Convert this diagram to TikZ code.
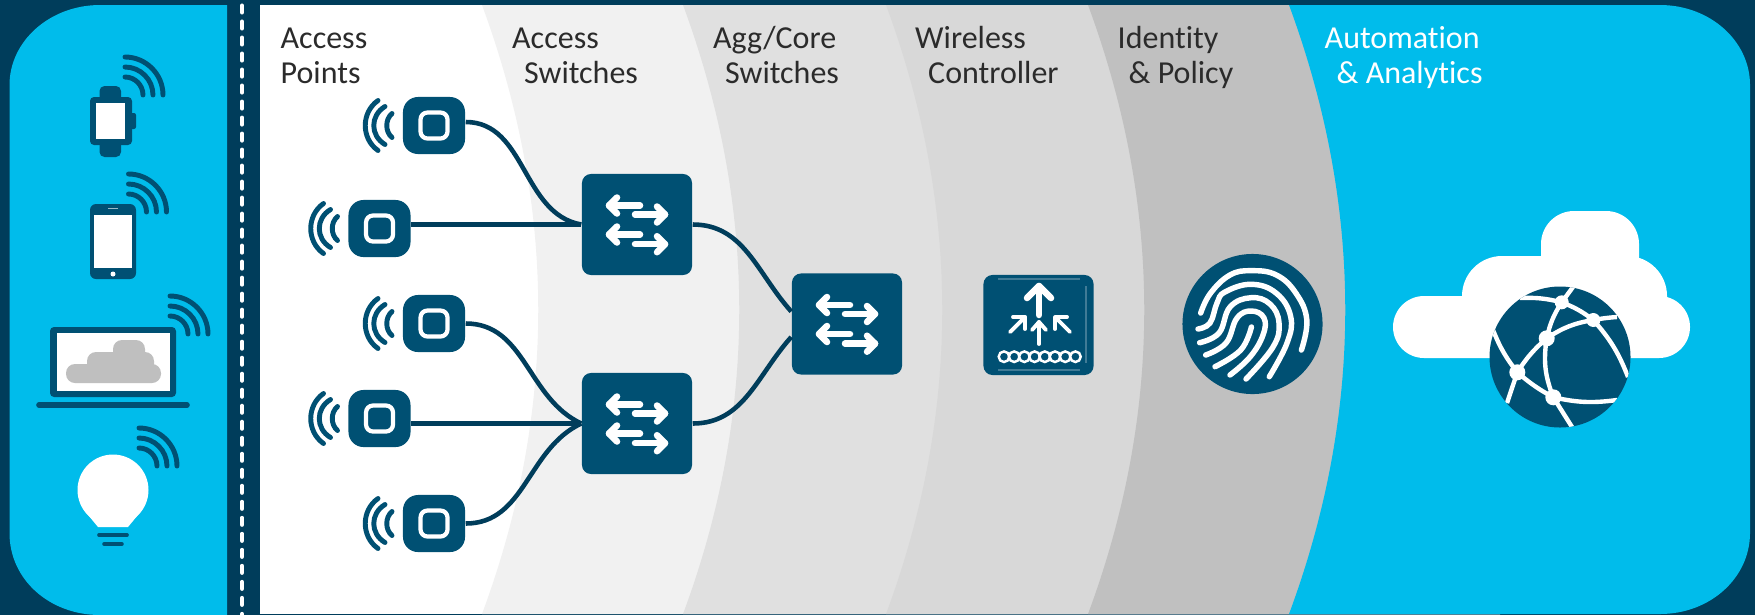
\documentclass[tikz,border=0pt]{standalone}
\usepackage{fontspec}
\setmainfont[Ligatures=NoCommon]{Carlito}
\usepackage{tikz}
\usetikzlibrary{positioning}
\definecolor{bgC}{HTML}{003D5B}
\definecolor{iconC}{HTML}{005073}
\definecolor{skyC}{HTML}{00BCEB}
\definecolor{inkC}{HTML}{2B2B2B}
\begin{document}
\begin{tikzpicture}[
        x=0.01cm,
        y=-0.01cm,
        labelS/.style={
            anchor=base west,
            inner sep=0,
            align=left,
            text=inkC,
            font=\fontsize{9.1}{9.75}\selectfont
        },
        apS/.style={
            fill=iconC,
            inner sep=0,
            minimum width=0.62cm,
            minimum height=0.57cm,
            rounded corners=0.15cm
        },
        switchS/.style={
            fill=iconC,
            inner sep=0,
            minimum width=1.1cm,
            minimum height=1.01cm,
            rounded corners=0.09cm
        },
        linkS/.style={
            draw=bgC,
            line width=1.3pt
        },
        waveS/.style={
            draw=iconC,
            line width=1.4pt,
            line cap=round
        },
        glyphS/.style={
            draw=white,
            line width=1.85pt,
            line cap=round,
            line join=round
        },
        globeS/.style={
            draw=white,
            line width=1.25pt
        },
        fingerS/.style={
            draw=white,
            line width=1.55pt,
            line cap=round
        },
        apP/.pic={
            \draw[white,line width=1.2pt,rounded corners=0.07cm] (-13.5,-13) rectangle (13.5,13);
            \draw[waveS] (-56,-25) .. controls (-73,-13) and (-73,13) .. (-56,25);
            \draw[waveS] (-49,-19) .. controls (-64,-10) and (-64,10) .. (-49,19);
            \draw[waveS] (-42,-12) .. controls (-49,-6) and (-49,6) .. (-42,12);
        },
        wifiP/.pic={
            \foreach \r in {18,28,38} {
                \draw[waveS] (0,-\r) .. controls (0.55*\r,-\r) and (\r,-0.55*\r) .. (\r,0);
            }
        },
        switchP/.pic={
            \foreach \yy in {-19,10} {
                \draw[glyphS] (3,\yy) -- (-28,\yy);
                \draw[glyphS] (-20,\yy-8) -- (-28,\yy) -- (-20,\yy+8);
            }
            \foreach \yy in {-10,19.7} {
                \draw[glyphS] (-2,\yy) -- (28,\yy);
                \draw[glyphS] (20,\yy-8) -- (28,\yy) -- (20,\yy+8);
            }
        },
    ]

	\useasboundingbox (0,0) rectangle (1755,614.5);

	% ground
	\fill[bgC] (0,0) rectangle (1755,615);
	\fill[skyC] (227,5) -- (100,5) .. controls (50,5) and (9.5,41) .. (9.5,85) -- (9.5,533) .. controls (9.5,580) and (50,615) .. (100,615) -- (227,615) -- cycle;
	\draw[white,line width=1.15pt,line cap=round,dash pattern=on 0.07cm off 0.09cm] (242,5.5) -- (242,615);
	\fill[white] (260,5) rectangle (600,614);
	\foreach \xt/\col in {482/F1F1F1,683/E0E0E0,886/D8D8D8,1088/C0C0C0} {
		\definecolor{bandC}{HTML}{\col}
		\fill[bandC] (\xt,5) .. controls (\xt+75,208) and (\xt+75,412) .. (\xt,614) -- (1500,614) -- (1500,5) -- cycle;
	}
	\fill[skyC] (1289,5) .. controls (1364,208) and (1364,412) .. (1289,614) -- (1660,614) .. controls (1710,614) and (1750,578) .. (1750,533) -- (1750,85) .. controls (1750,41) and (1710,5) .. (1660,5) -- cycle;

	% headings
	\node[labelS] (L1) at (280,83) {Access\\Points};
	\node[labelS] (L2) at (511.5,83) {Access\\\hspace*{0.12cm}Switches};
	\node[labelS] (L3) at (712.5,83) {Agg/Core\\\hspace*{0.12cm}Switches};
	\node[labelS] (L4) at (914.5,83) {Wireless\\\hspace*{0.13cm}Controller};
	\node[labelS] (L5) at (1117,83) {Identity\\\hspace*{0.11cm}\& Policy};
	\node[labelS,text=white] (L6) at (1324,83) {Automation\\\hspace*{0.12cm}\& Analytics};

	% devices
	\fill[iconC,rounded corners=0.05cm] (99.5,86) rectangle (121,110);
	\fill[iconC,rounded corners=0.05cm] (99.5,130) rectangle (121,157);
	\fill[iconC,rounded corners=0.02cm] (128,113) rectangle (136,129);
	\fill[iconC,rounded corners=0.04cm] (90,97) rectangle (132,145);
	\fill[white] (96,103) rectangle (125,139);
	\pic at (125,95) {wifiP};

	\fill[iconC,rounded corners=0.06cm] (90,204) rectangle (136,279);
	\fill[white] (94,215) rectangle (132,268);
	\draw[white,opacity=0.6,line width=0.3pt] (108,208.3) -- (118,208.3);
	\fill[white] (113,274) circle (2.5);
	\pic at (128.5,212) {wifiP};

	\fill[iconC,rounded corners=0.04cm] (50,327) rectangle (176,397);
	\fill[white] (57,333) rectangle (170,391);
	\fill[black!25,rounded corners=0.09cm] (66,364) rectangle (161,383);
	\fill[black!25,rounded corners=0.09cm] (87,352) rectangle (154,380);
	\fill[black!25,rounded corners=0.09cm] (113,340) rectangle (145,370);
	\draw[iconC,line width=1.6pt,line cap=round] (39,405) -- (187,405);
	\pic at (170,334) {wifiP};

	\fill[white] (113,490) circle (35.5);
	\fill[white] (84,510) -- (98,527) -- (128,527) -- (142,510) -- cycle;
	\draw[iconC,line width=1.05pt,line cap=round] (99,535) -- (127,535);
	\draw[iconC,line width=1pt,line cap=round] (104,544) -- (122,544);
	\pic at (139,466) {wifiP};

	% access points and switches
	\foreach \n/\x/\y in {1/434/125.5,2/379.5/228.5,3/434/323.5,4/379.5/418.5,5/434/523.5} {
		\node[apS] (AP\n) at (\x,\y) {};
		\pic at (AP\n) {apP};
	}
	\node[switchS] (S1) at (637,224.5) {};
	\node[switchS] (S2) at (637,423.5) {};
	\node[switchS] (S3) at (847,324) {};
	\pic at (S1) {switchP};
	\pic at (S2) {switchP};
	\pic at (S3) {switchP};

	\draw[linkS] ([yshift=0.035cm]AP1.east) to[out=0,in=170] (S1.west);
	\draw[linkS] (AP2.east |- S1.west) -- (S1.west);
	\draw[linkS] (AP3.east) to[out=0,in=155] (S2.west);
	\draw[linkS] (AP4.east |- S2.west) -- (S2.west);
	\draw[linkS] (AP5.east) to[out=0,in=205] (S2.west);
	\draw[linkS] (S1.east) to[out=0,in=132] ([yshift=0.125cm]S3.west);
	\draw[linkS] (S2.east) to[out=0,in=228] ([yshift=-0.13cm]S3.west);

	% wireless controller
	\node[switchS,minimum height=1cm] (WC) at (1038.5,325) {};
	\draw[white,opacity=0.25,line width=0.3pt] (998,279) -- (1080,279);
	\draw[white,opacity=0.25,line width=0.3pt] (998,370) -- (1080,370);
	\draw[white,opacity=0.25,line width=0.3pt] (1086,286) -- (1086,363);
	\draw[glyphS] (1039,315) -- (1039,286);
	\draw[glyphS] (1027,298) -- (1039,286) -- (1051,298);
	\begin{scope}[glyphS,line width=1.1pt]
		\draw (1039,344) -- (1039,322);
		\draw (1032,330) -- (1039,322) -- (1046,330);
		\draw (1010,332) -- (1025,317);
		\draw (1013,317) -- (1025,317) -- (1025,329);
		\draw (1070,332) -- (1055,317);
		\draw (1067,317) -- (1055,317) -- (1055,329);
	\end{scope}
	\foreach \i in {0,...,7} {
		\draw[white,fill=iconC,line width=0.7pt] (1004+10.2*\i,356.7) circle (5.3);
	}

	% identity
	\node[circle,fill=iconC,inner sep=0,minimum size=1.4cm] (FP) at (1252.5,324) {};
	\draw[fingerS] plot[smooth,tension=0.7] coordinates {(1200.7,313) (1210.4,293.3) (1230,275) (1251.4,270.7) (1276.4,275) (1296,293.3) (1306.8,320) (1301.4,350)};
	\draw[fingerS] plot[smooth,tension=0.7] coordinates {(1198,329) (1210,323) (1217,303) (1225,292) (1251.4,284.3) (1276.4,293.3) (1290.7,316.7) (1287,343) (1269.3,376.7)};
	\draw[fingerS] plot[smooth,tension=0.7] coordinates {(1199.6,342.7) (1219,333) (1230,307) (1251,297.7) (1270,304) (1279,323) (1273,347) (1246,379)};
	\draw[fingerS] plot[smooth,tension=0.7] coordinates {(1205.7,355) (1226,343) (1237,318) (1251.4,311) (1264,318) (1263,335) (1250,357) (1230,375)};
	\draw[fingerS] plot[smooth,tension=0.7] coordinates {(1215,366.7) (1240.7,350) (1251.4,327)};

	% cloud and globe
	\fill[white,rounded corners=0.31cm] (1393,296) rectangle (1690,358);
	\fill[white,rounded corners=0.4cm] (1462,256) rectangle (1667,340);
	\fill[white,rounded corners=0.33cm] (1541,211) rectangle (1639,290);
	\fill[iconC] (1560,357) circle (70.5);
	\begin{scope}
		\clip (1560,357) circle (70.5);
		\coordinate (Ga) at (1561.7,302.3);
		\coordinate (Gb) at (1593.3,320);
		\coordinate (Gc) at (1546.7,338.3);
		\coordinate (Gd) at (1517.3,372.3);
		\coordinate (Ge) at (1553.3,397.3);
		\draw[globeS] (1520,298) to[bend left=8] (Ga);
		\draw[globeS] (Ga) -- (1573,287);
		\draw[globeS] (Ga) to[bend left=8] (Gb);
		\draw[globeS] (Gc) to[bend left=12] (Gb);
		\draw[globeS] (Gb) to[bend left=3] (1617,317);
		\draw[globeS] (Ga) to[bend right=10] (Gc);
		\draw[globeS] (Gb) to[bend left=10] (1628,377);
		\draw[globeS] (Gc) to[bend right=8] (Gd);
		\draw[globeS] (Gd) to[bend left=8] (1493,330);
		\draw[globeS] (Gd) -- (1507,403);
		\draw[globeS] (Gd) to[bend right=6] (Ge);
		\draw[globeS] (Gc) to[bend right=15] (Ge);
		\draw[globeS] (Ge) to[bend right=10] (1617,400);
		\draw[globeS] (Ge) -- (1572,427);
		\foreach \g/\rr in {Ga/7,Gb/7,Gc/8,Gd/8,Ge/8} {
			\fill[white] (\g) circle (\rr);
		}
	\end{scope}

\end{tikzpicture}
\end{document}
